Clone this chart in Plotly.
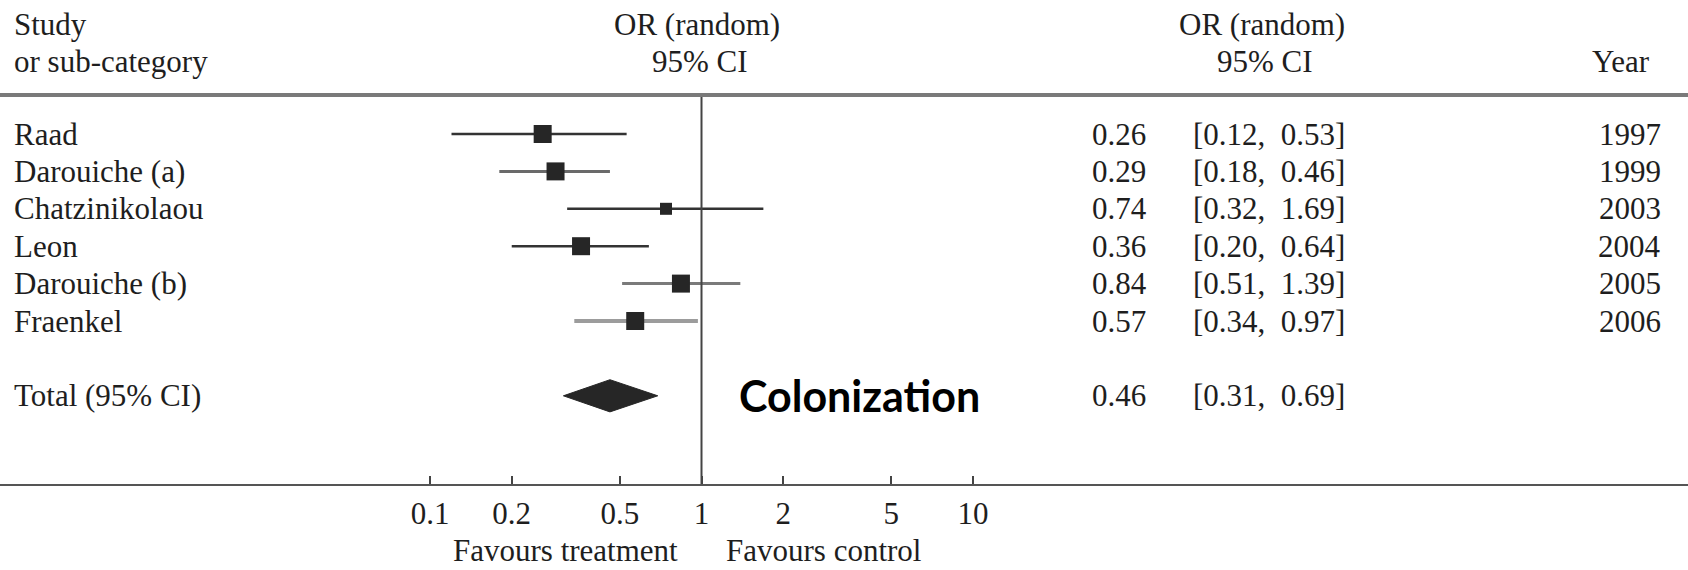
import plotly.graph_objects as go

# ---- data -------------------------------------------------------------
studies = ["Raad", "Darouiche (a)", "Chatzinikolaou", "Leon", "Darouiche (b)", "Fraenkel"]
odds_ratio = [0.26, 0.29, 0.74, 0.36, 0.84, 0.57]
ci_low = [0.12, 0.18, 0.32, 0.20, 0.51, 0.34]
ci_high = [0.53, 0.46, 1.69, 0.64, 1.39, 0.97]
years = [1997, 1999, 2003, 2004, 2005, 2006]

total_label = "Total (95% CI)"
total_or = 0.46
total_low = 0.31
total_high = 0.69

tick_values = [0.1, 0.2, 0.5, 1, 2, 5, 10]
tick_labels = ["0.1", "0.2", "0.5", "1", "2", "5", "10"]

# ---- styling ----------------------------------------------------------
SERIF = "Liberation Serif, Times New Roman, serif"
TXT = "#1e1e1e"
FS = 31
W, H = 1688, 570

# per-study line colour / width and box size (box ~ study weight)
line_colors = ["#333333", "#6a6a6a", "#333333", "#333333", "#7a7a7a", "#9c9c9c"]
line_widths = [2.5, 3, 2.5, 2.5, 3, 4]
box_sizes = [18, 18, 12, 18, 18, 18]
BOX_COLOR = "#262626"

total_row = len(studies) + 1
diamond_half_height = 0.43  # in row units

top_px, bottom_px = 95, 484
row0_px, row_step = 134, 37.4
zero_px, decade_px = 701.5, 271.5

fig = go.Figure()

# confidence interval whiskers and point-estimate boxes
for i, name in enumerate(studies):
    fig.add_trace(go.Scatter(
        x=[ci_low[i], ci_high[i]], y=[i, i], mode="lines",
        line=dict(color=line_colors[i], width=line_widths[i]),
        hoverinfo="skip", showlegend=False))
for i, name in enumerate(studies):
    fig.add_trace(go.Scatter(
        x=[odds_ratio[i]], y=[i], mode="markers",
        marker=dict(symbol="square", size=box_sizes[i], color=BOX_COLOR,
                    line=dict(width=0)),
        name=name, showlegend=False))

# pooled estimate diamond
fig.add_trace(go.Scatter(
    x=[total_low, total_or, total_high, total_or, total_low],
    y=[total_row, total_row - diamond_half_height, total_row,
       total_row + diamond_half_height, total_row],
    mode="lines", fill="toself", fillcolor=BOX_COLOR,
    line=dict(color=BOX_COLOR, width=1),
    hoverinfo="skip", showlegend=False))

# line of no effect
fig.add_shape(type="line", xref="x", yref="paper", x0=1, x1=1, y0=0, y1=1,
              line=dict(color="#444444", width=2))
# header rule
fig.add_shape(type="line", xref="paper", yref="paper", x0=0, x1=1, y0=1, y1=1,
              line=dict(color="#7a7a7a", width=4))


def px(xpix):
    return xpix / W


def py(ypix):
    # page pixel row -> paper fraction of the plotting area
    return (bottom_px - ypix) / (bottom_px - top_px)


def text(x, y, s, anchor="left", yref="y", size=FS, family=SERIF, color=TXT,
         bold=False, pad=1):
    if bold:
        s = "<b>" + s + "</b>"
    fig.add_annotation(x=x, y=y, xref="paper", yref=yref, text=s, showarrow=False,
                       xanchor=anchor, yanchor="middle", borderpad=pad,
                       font=dict(family=family, size=size, color=color))


def fmt(v):
    return f"{v:.2f}"


def fmt_ci(lo, hi):
    return f"[{fmt(lo)},\u00a0 {fmt(hi)}]"


# study rows
for i, name in enumerate(studies):
    text(px(12), i, name)
    text(px(1090), i, fmt(odds_ratio[i]))
    text(px(1191), i, fmt_ci(ci_low[i], ci_high[i]))
    text(px(1663), i, str(years[i]), anchor="right")

# total row
text(px(12), total_row, total_label)
text(px(1090), total_row, fmt(total_or))
text(px(1191), total_row, fmt_ci(total_low, total_high))

# column headers
y1 = py(24)
y2 = py(62)
text(px(12), y1, "Study", yref="paper")
text(px(12), y2, "or sub-category", yref="paper")
text(px(697), y1, "OR (random)", anchor="center", yref="paper")
text(px(700), y2, "95% CI", anchor="center", yref="paper")
text(px(1262), y1, "OR (random)", anchor="center", yref="paper")
text(px(1265), y2, "95% CI", anchor="center", yref="paper")
text(px(1652), y2, "Year", anchor="right", yref="paper")

# axis captions
text(px(679), py(550), "Favours treatment", anchor="right", yref="paper", pad=0)
text(px(725), py(550), "Favours control", anchor="left", yref="paper", pad=0)

# outcome label
text(px(737), total_row, "Colonization", family="Lato, sans-serif", size=43,
     color="#000000", bold=True)

fig.update_layout(
    width=W, height=H, autosize=False,
    margin=dict(l=0, r=0, t=top_px, b=H - bottom_px, pad=0),
    plot_bgcolor="white", paper_bgcolor="white",
    showlegend=False,
    xaxis=dict(
        type="log",
        range=[(0 - zero_px) / decade_px, (W - zero_px) / decade_px],
        tickmode="array", tickvals=tick_values, ticktext=tick_labels,
        ticks="inside", ticklen=8, tickwidth=2, tickcolor="#444444",
        showline=True, linecolor="#555555", linewidth=2,
        showgrid=False, zeroline=False,
        tickfont=dict(family=SERIF, size=FS, color=TXT),
        ticklabelstandoff=1,
        fixedrange=True,
    ),
    yaxis=dict(
        range=[(bottom_px - row0_px) / row_step, (top_px - row0_px) / row_step],
        visible=False, showgrid=False, zeroline=False, fixedrange=True,
    ),
)

fig.write_html("out.html")
